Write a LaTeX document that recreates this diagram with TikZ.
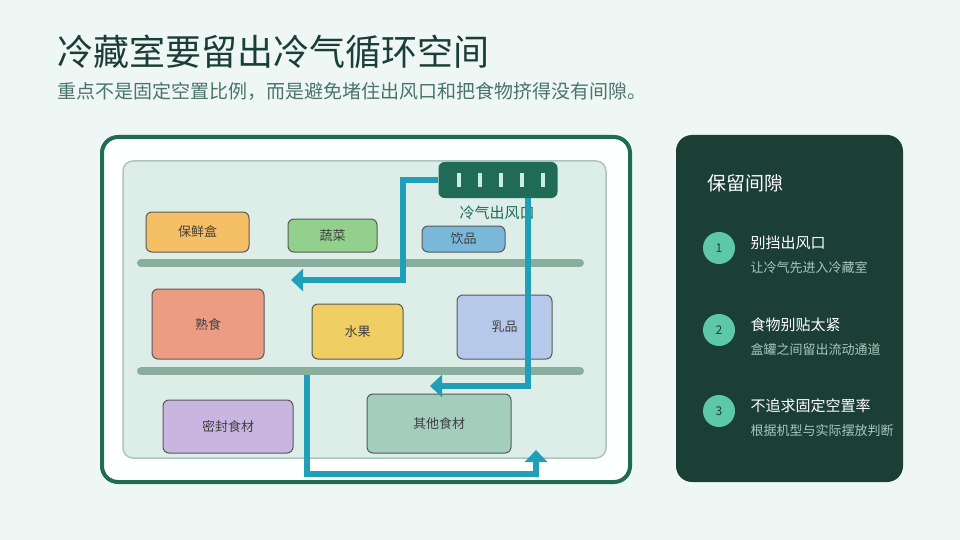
\documentclass[tikz,border=0pt]{standalone}
\usepackage{fontspec}
\newfontfamily\cjk{Noto Sans CJK SC}
\usetikzlibrary{arrows.meta}
\definecolor{bgmint}{HTML}{EEF7F4}
\definecolor{deepgreen}{HTML}{1F6B55}
\definecolor{panelgreen}{HTML}{1B3F35}
\definecolor{airblue}{HTML}{1FA0B8}
\definecolor{shelfgray}{HTML}{8AAE9E}
\definecolor{dotgreen}{HTML}{5CC8A5}
\definecolor{subgray}{HTML}{4A7468}
\definecolor{innerfill}{HTML}{DDEEE8}
\definecolor{barlight}{HTML}{C8EEE0}
\definecolor{notegray}{HTML}{A8C8BC}
\definecolor{boxorange}{HTML}{F5C065}
\definecolor{vegg}{HTML}{93D08E}
\definecolor{drinkblue}{HTML}{7AB8DA}
\definecolor{cookedred}{HTML}{EC9C82}
\definecolor{fruity}{HTML}{EFCE63}
\definecolor{dairyblue}{HTML}{B7C9EB}
\definecolor{sealedpurple}{HTML}{C9B5E0}
\definecolor{otherteal}{HTML}{A3CDBD}
\tikzset{
  food/.style={draw=black!65, line width=1pt, rounded corners=6pt, font=\cjk\fontsize{13}{13}\selectfont, text=black!75},
  shelf/.style={draw=shelfgray, line width=8pt, line cap=round},
  airflow/.style={draw=airblue, line width=6pt, -{Triangle[length=12pt,width=22pt]}},
  stepdot/.style={circle, fill=dotgreen, minimum size=32pt, inner sep=0pt, font=\cjk\fontsize{12}{12}\selectfont, text=panelgreen},
}
\begin{document}
\begin{tikzpicture}[x=1pt,y=-1pt]
\useasboundingbox[fill=bgmint] (0,0) rectangle (960,540);
% heading
\node[anchor=west, font=\cjk\fontsize{36}{36}\selectfont, text=panelgreen] (title) at (54,52) {冷藏室要留出冷气循环空间};
\node[anchor=west, font=\cjk\fontsize{19}{19}\selectfont, text=subgray] (subtitle) at (54,91) {重点不是固定空置比例，而是避免堵住出风口和把食物挤得没有间隙。};
% fridge
\draw[deepgreen, line width=4pt, fill=white!97!bgmint, rounded corners=16pt] (102,137) rectangle (630,482);
\draw[shelfgray!70!white, line width=1.5pt, fill=innerfill, rounded corners=10pt] (123,161) rectangle (606,458);
\draw[shelf] (141,263) -- (580,263);
\draw[shelf] (141,371) -- (580,371);
% food boxes
\node[food, fill=boxorange, minimum width=103pt, minimum height=40pt] (box) at (197.5,232) {保鲜盒};
\node[food, fill=vegg, minimum width=89pt, minimum height=33pt] (veg) at (332.5,235.5) {蔬菜};
\node[food, fill=drinkblue, minimum width=83pt, minimum height=26pt] (drink) at (463.5,239) {饮品};
\node[food, fill=cookedred, minimum width=112pt, minimum height=70pt] (cooked) at (208,324) {熟食};
\node[food, fill=fruity, minimum width=91pt, minimum height=55pt] (fruit) at (357.5,331.5) {水果};
\node[food, fill=dairyblue, minimum width=95pt, minimum height=64pt] (dairy) at (504.5,327) {乳品};
\node[food, fill=sealedpurple, minimum width=130pt, minimum height=53pt] (sealed) at (228,426.5) {密封食材};
\node[food, fill=otherteal, minimum width=144pt, minimum height=59pt] (other) at (439,423.5) {其他食材};
% vent
\node[fill=deepgreen, rounded corners=6pt, minimum width=119pt, minimum height=36pt] (vent) at (498,180) {};
\foreach \i in {0,...,4}
  \fill[barlight] (457+21*\i,173) rectangle ++(4,14);
\node[font=\cjk\fontsize{15}{15}\selectfont, text=deepgreen] (ventlabel) at (497,213) {冷气出风口};
% air paths
\coordinate (a1) at (291,280);
\coordinate (a2) at (430,386);
\coordinate (a3s) at (307,375);
\coordinate (a3) at (536,450);
\draw[airflow] (vent.west) -| (403,280) -- (a1);
\draw[airflow] (528,198) |- (a2);
\draw[airflow] (a3s) |- (536,474) -- (a3);
% side panel
\fill[panelgreen, rounded corners=16pt] (676,135) rectangle (903,482);
\node[anchor=west, font=\cjk\fontsize{19}{19}\selectfont, text=white] (keep) at (704,183) {保留间隙};
\foreach \n/\y/\head/\note in {1/248/别挡出风口/让冷气先进入冷藏室, 2/330/食物别贴太紧/盒罐之间留出流动通道, 3/411/不追求固定空置率/根据机型与实际摆放判断} {
  \node[stepdot] (dot\n) at (719,\y) {\n};
  \node[anchor=west, font=\cjk\fontsize{15}{15}\selectfont, text=white] (head\n) at (747,\y-5) {\head};
  \node[anchor=west, font=\cjk\fontsize{13}{13}\selectfont, text=notegray] (note\n) at (747,\y+20) {\note};
}
\end{tikzpicture}
\end{document}
